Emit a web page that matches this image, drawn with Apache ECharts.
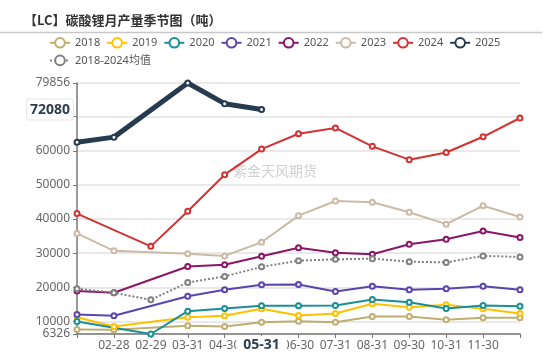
<!DOCTYPE html>
<html><head><meta charset="utf-8">
<script src="https://cdn.jsdelivr.net/npm/echarts@6/dist/echarts.min.js"></script>
<style>html,body{margin:0;padding:0;background:#fff}#c{width:550px;height:355px}</style>
</head><body><div id="c"></div>
<script>
const titleText = '【LC】碳酸锂月产量季节图（吨）';
const watermark = '紫金天风期货';
const categories = ['01-31','02-28','02-29','03-31','04-30','05-31','06-30','07-31','08-31','09-30','10-31','11-30','12-31'];
const s2018 = [7660,7570,null,8740,8540,9800,10090,9800,11460,11460,10500,11080,11080];
const s2019 = [11260,8540,null,11260,11670,13720,11760,12340,15180,14190,14890,13720,12340];
const s2020 = [10000,null,6326,13010,13800,14600,14600,14680,16440,15650,13800,14680,14480];
const s2021 = [12050,11670,null,17400,19280,20740,20830,18780,20330,19280,19570,20330,19280];
const s2022 = [18900,18400,null,26100,26600,29100,31600,30100,29700,32600,34100,36500,34600];
const s2023 = [35800,30700,null,29800,29200,33200,41000,45300,44900,42000,38500,43900,40600];
const s2024 = [41600,null,32000,42300,53000,60500,65000,66700,61300,57400,59500,64100,69600];
const s2025 = [62500,64000,null,79856,73800,72080,null,null,null,null,null,null,null];
const sAvg = [19600,18400,16350,21400,23200,26000,27800,28200,28400,27500,27300,29200,28900];

const seriesNames = ['2018','2019','2020','2021','2022','2023','2024','2025','2018-2024均值'];
const seriesData = [s2018,s2019,s2020,s2021,s2022,s2023,s2024,s2025,sAvg];
const colors = ['#bfae72','#ffc000','#1a8f96','#5a45b0','#8c1566','#cbbba6','#d23232','#263b4e','#808080'];

let lastIdx = 0;
s2025.forEach((v,i)=>{ if(v!=null) lastIdx=i; });

const chart = echarts.init(document.getElementById('c'));
const series = seriesNames.map((n,i)=>{
  const isAvg = i===8, is25 = i===7;
  return {
    name:n, type:'line', data:seriesData[i], connectNulls:true,
    symbol:'emptyCircle', symbolSize: 5,
    itemStyle:{color:colors[i], borderWidth:1.2},
    lineStyle:{width: is25?5:2, type: isAvg?'dotted':'solid', color:colors[i]},
    z: is25?5:2, animation:false
  };
});
chart.setOption({
  animation:false,
  title:{text:titleText, left:19, top:9, textStyle:{fontSize:13, fontWeight:'bold', color:'#333', fontFamily:'Noto Sans CJK SC'}},
  graphic:[
    {type:'line', shape:{x1:0,y1:32.5,x2:542,y2:32.5}, style:{stroke:'#c8c8c8', lineWidth:1.5}, silent:true},
    {type:'text', left:233, top:164, style:{text:watermark, fill:'#d0d0d0', fontSize:14, fontFamily:'Noto Sans CJK SC'}, silent:true, z:0}
  ],
  legend:{
    data:seriesNames, left:44, top:32, width:480, itemWidth:20, itemHeight:12, itemGap:6,
    textStyle:{fontSize:11, color:'#555', fontFamily:'Noto Sans, Noto Sans CJK SC'}
  },
  grid:{left:77, right:30, top:83, bottom:21, containLabel:false},
  xAxis:{
    type:'category', data:categories, boundaryGap:false,
    axisLine:{lineStyle:{color:'#777', width:1.5}},
    axisTick:{length:4, interval:0, lineStyle:{color:'#777'}},
    axisLabel:{interval:(i)=> i>0 && i<categories.length-1, color:'#666', fontSize:12, margin:6, fontFamily:'Noto Sans'},
    axisPointer:{show:true, status:'show', value:lastIdx, type:'none', triggerTooltip:false,
      label:{show:true, backgroundColor:'#fff', color:'#2c3e50', fontWeight:'bold', fontSize:14, padding:[2,7], margin:2, fontFamily:'Noto Sans'}}
  },
  yAxis:{
    type:'value', min:'dataMin', max:'dataMax',
    axisLine:{show:true, lineStyle:{color:'#777', width:1.5}},
    axisTick:{show:true, length:4, lineStyle:{color:'#777'}},
    axisLabel:{showMinLabel:true, showMaxLabel:true, color:'#666', fontSize:12, margin:7, fontFamily:'Noto Sans', formatter:v=>String(Math.round(v))},
    splitLine:{lineStyle:{color:'#e2e2e2', width:1.5}},
    axisPointer:{show:true, status:'show', value:s2025[lastIdx], type:'none', triggerTooltip:false,
      label:{show:true, backgroundColor:'#fff', color:'#2c3e50', fontWeight:'bold', fontSize:14, padding:[3,3], margin:4,
        borderColor:'#e4e4e4', borderWidth:1, fontFamily:'Noto Sans', formatter:p=>String(Math.round(p.value))}}
  },
  series:series
});
</script></body></html>
